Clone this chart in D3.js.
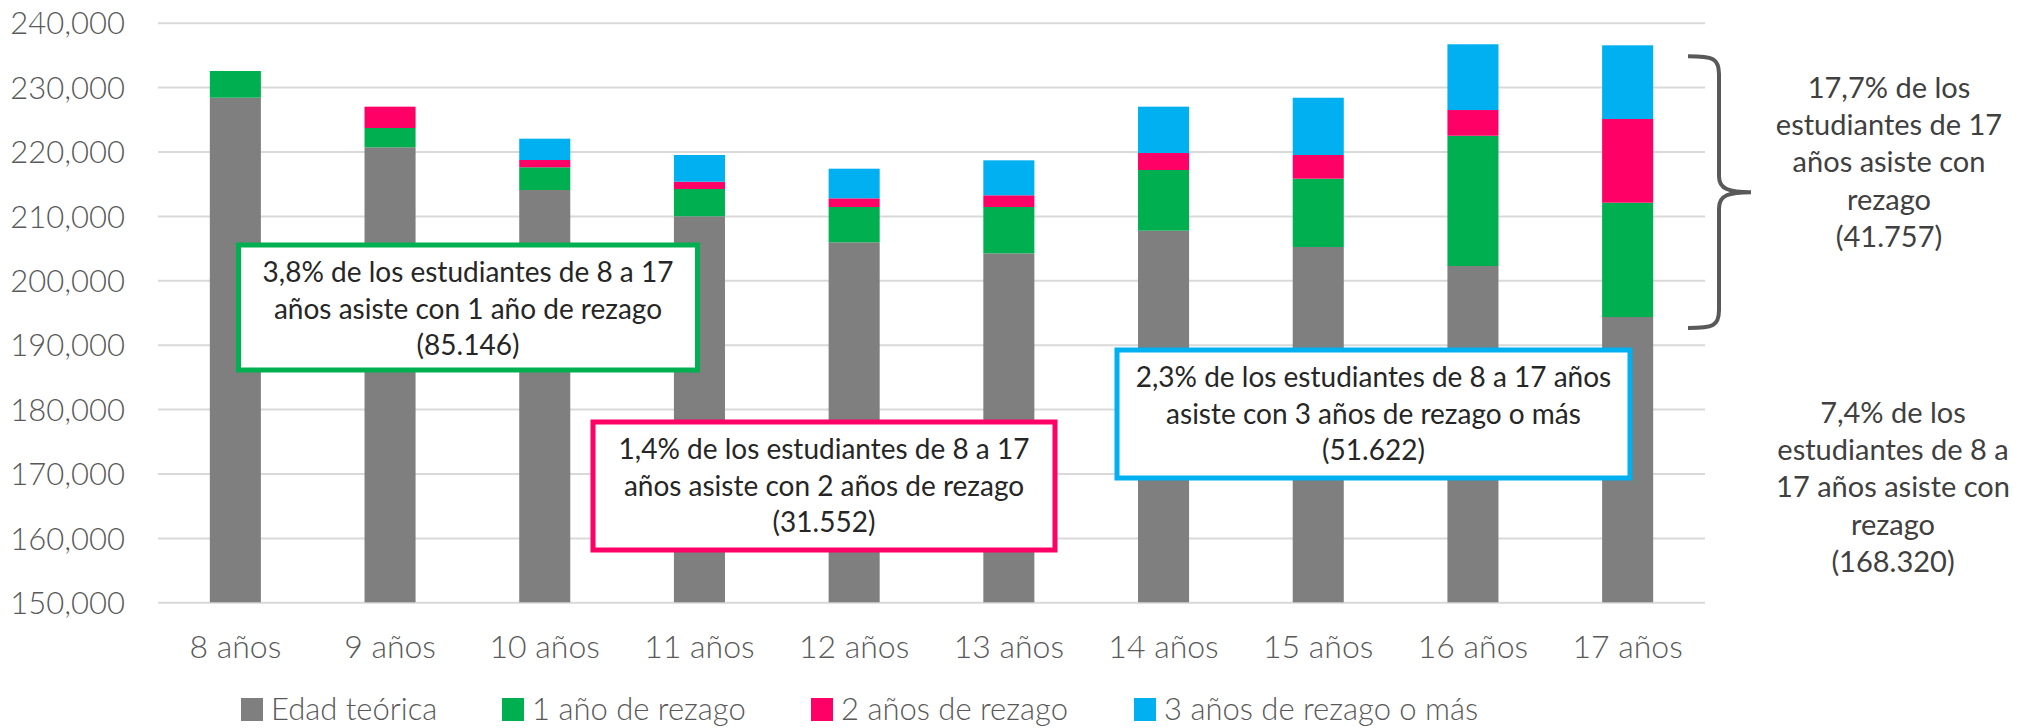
<!DOCTYPE html>
<html>
<head>
<meta charset="utf-8">
<script src="https://cdn.jsdelivr.net/npm/d3@7"></script>
<style>
  body { margin: 0; background: #fff; }
  text { font-family: Lato, "Open Sans", sans-serif; }
  .light { font-weight: 300; }
</style>
</head>
<body>
<div id="chart"></div>
<script>
var categories = ["8 años", "9 años", "10 años", "11 años", "12 años", "13 años", "14 años", "15 años", "16 años", "17 años"];
var edadTeorica = [228350, 220650, 214020, 209940, 205900, 204190, 207700, 205170, 202220, 194300];
var rezago1 = [4150, 3000, 3530, 4240, 5480, 7190, 9430, 10610, 20230, 17750];
var rezago2 = [0, 3310, 1130, 1130, 1350, 1820, 2640, 3680, 3990, 13000];
var rezago3 = [0, 0, 3310, 4150, 4600, 5430, 7190, 8890, 10210, 11440];
var seriesNames = ["Edad teórica", "1 año de rezago", "2 años de rezago", "3 años de rezago o más"];
var seriesColors = ["#7f7f7f", "#00b050", "#ff0066", "#00b0f0"];
var yTicks = [150000, 160000, 170000, 180000, 190000, 200000, 210000, 220000, 230000, 240000];

var svgWidth = 2022, svgHeight = 728;
var plot = { left: 158, right: 1705, top: 22.7, bottom: 602.3 };

var svg = d3.select("#chart").append("svg")
    .attr("width", svgWidth)
    .attr("height", svgHeight);

svg.append("rect").attr("width", svgWidth).attr("height", svgHeight).attr("fill", "#fff");

var x = d3.scaleBand().domain(categories).range([plot.left, plot.right])
    .paddingInner(0.67).paddingOuter(0.335);
var y = d3.scaleLinear().domain([150000, 240000]).range([plot.bottom, plot.top]);

// gridlines + y labels
var yAxis = svg.append("g")
    .attr("transform", "translate(" + plot.left + ",0)")
    .call(d3.axisLeft(y).tickValues(yTicks).tickFormat(d3.format(","))
        .tickSize(-(plot.right - plot.left)).tickPadding(33));
yAxis.select(".domain").remove();
yAxis.selectAll("line").attr("stroke", "#d9d9d9").attr("stroke-width", 2);
yAxis.selectAll("text").attr("class", "light").attr("fill", "#595959").style("font-size", "31px")
    .style("font-family", "Lato, sans-serif").attr("dy", "0.36em");

// stacked bars
var rows = categories.map(function (c, i) {
    return { cat: c, s0: edadTeorica[i], s1: rezago1[i], s2: rezago2[i], s3: rezago3[i] };
});
var stack = d3.stack().keys(["s0", "s1", "s2", "s3"]);
var stacked = stack(rows);

svg.append("g").selectAll("g")
    .data(stacked)
    .enter().append("g")
    .attr("fill", function (d, i) { return seriesColors[i]; })
    .selectAll("rect")
    .data(function (d) { return d; })
    .enter().append("rect")
    .attr("x", function (d) { return x(d.data.cat); })
    .attr("width", x.bandwidth())
    .attr("y", function (d) { return y(Math.max(d[1], 150000)); })
    .attr("height", function (d) { return y(Math.max(d[0], 150000)) - y(Math.max(d[1], 150000)); });

// x labels
svg.append("g").selectAll("text")
    .data(categories)
    .enter().append("text")
    .attr("class", "light")
    .attr("x", function (d) { return x(d) + x.bandwidth() / 2; })
    .attr("y", 658)
    .attr("text-anchor", "middle")
    .attr("fill", "#595959")
    .style("font-size", "32px")
    .text(function (d) { return d; });

// legend
var legendX = [241, 502, 811, 1134];
var leg = svg.append("g").selectAll("g")
    .data(seriesNames)
    .enter().append("g")
    .attr("transform", function (d, i) { return "translate(" + legendX[i] + ",0)"; });
leg.append("rect").attr("y", 698).attr("width", 22).attr("height", 23)
    .attr("fill", function (d, i) { return seriesColors[i]; });
leg.append("text").attr("class", "light").attr("x", 30).attr("y", 720)
    .attr("fill", "#595959").style("font-size", "31px")
    .text(function (d) { return d; });

// callout boxes
var boxes = [
    { x0: 238.5, x1: 697.5, y0: 245, y1: 370, color: "#00b050",
      lines: ["3,8% de los estudiantes de 8 a 17", "años asiste con 1 año de rezago", "(85.146)"] },
    { x0: 593, x1: 1055, y0: 422, y1: 550, color: "#ff0066",
      lines: ["1,4% de los estudiantes de 8 a 17", "años asiste con 2 años de rezago", "(31.552)"] },
    { x0: 1117, x1: 1630, y0: 350, y1: 478, color: "#00b0f0",
      lines: ["2,3% de los estudiantes de 8 a 17 años", "asiste con 3 años de rezago o más", "(51.622)"] }
];
boxes.forEach(function (b) {
    svg.append("rect")
        .attr("x", b.x0).attr("y", b.y0)
        .attr("width", b.x1 - b.x0).attr("height", b.y1 - b.y0)
        .attr("fill", "#fff").attr("stroke", b.color).attr("stroke-width", 5);
    var t = svg.append("text")
        .attr("text-anchor", "middle")
        .attr("fill", "#262626")
        .style("font-size", "28px");
    b.lines.forEach(function (l, i) {
        t.append("tspan").attr("x", (b.x0 + b.x1) / 2)
            .attr("y", b.y0 + 37 + i * 36.7).text(l);
    });
});

// brace for the 17-year bar
var last = categories.length - 1;
var bTop = y(edadTeorica[last] + rezago1[last] + rezago2[last] + rezago3[last]) + 11;
var bBot = y(edadTeorica[last]) + 11;
var bMid = (bTop + bBot) / 2;
var bx0 = 1688, bx1 = 1719, bx2 = 1751;
svg.append("path")
    .attr("d", "M" + bx0 + "," + bTop +
        " C" + (bx1 - 6) + "," + bTop + " " + bx1 + "," + (bTop + 2) + " " + bx1 + "," + (bTop + 18) +
        " L" + bx1 + "," + (bMid - 16) +
        " C" + bx1 + "," + (bMid - 3) + " " + (bx1 + 10) + "," + bMid + " " + bx2 + "," + bMid +
        " C" + (bx1 + 10) + "," + bMid + " " + bx1 + "," + (bMid + 3) + " " + bx1 + "," + (bMid + 16) +
        " L" + bx1 + "," + (bBot - 18) +
        " C" + bx1 + "," + (bBot - 2) + " " + (bx1 - 6) + "," + bBot + " " + bx0 + "," + bBot)
    .attr("fill", "none").attr("stroke", "#595959").attr("stroke-width", 4);

// side notes
var notes = [
    { cx: 1889, y0: 98, lines: ["17,7% de los", "estudiantes de 17", "años asiste con", "rezago", "(41.757)"] },
    { cx: 1893, y0: 423, lines: ["7,4% de los", "estudiantes de 8 a", "17 años asiste con", "rezago", "(168.320)"] }
];
notes.forEach(function (n) {
    var t = svg.append("text").attr("text-anchor", "middle")
        .attr("fill", "#404040").style("font-size", "29px");
    n.lines.forEach(function (l, i) {
        t.append("tspan").attr("x", n.cx).attr("y", n.y0 + i * 37.2).text(l);
    });
});
</script>
</body>
</html>
